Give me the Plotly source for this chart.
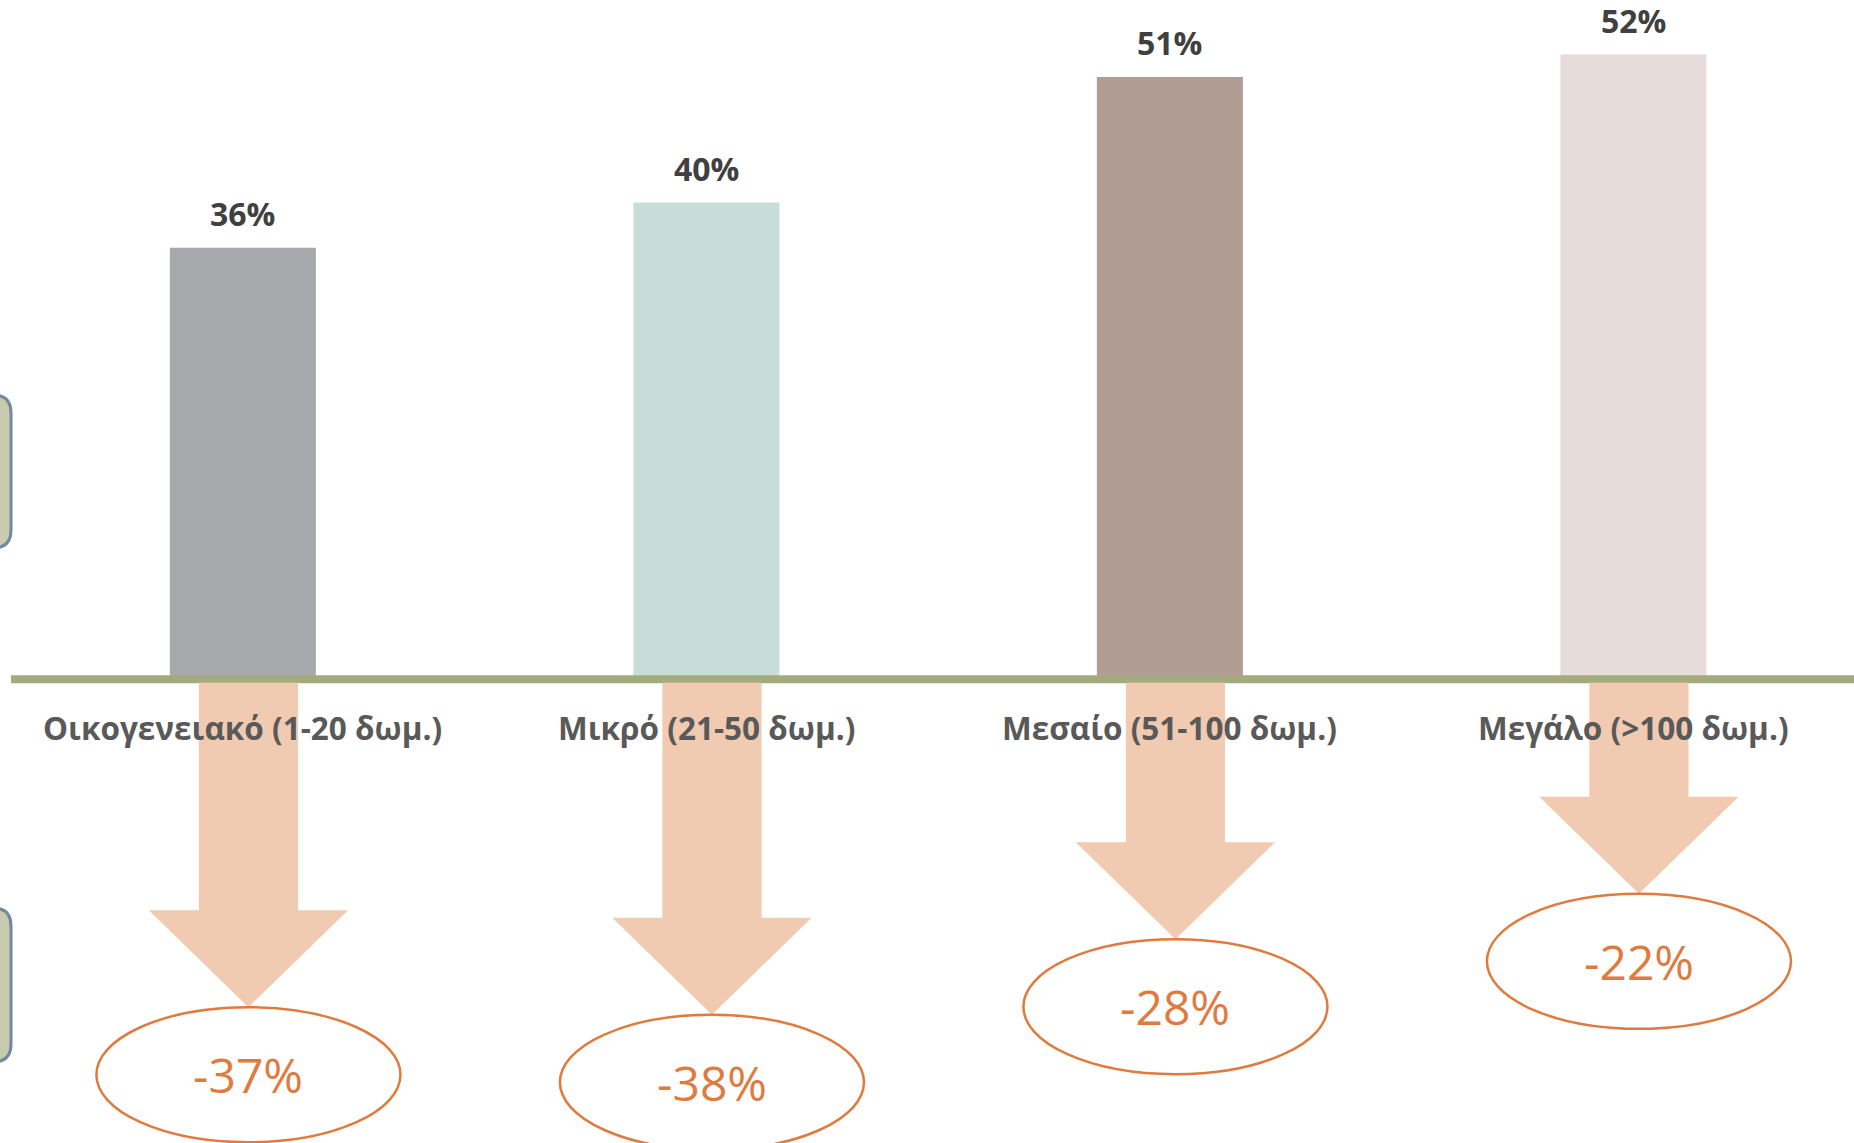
import plotly.graph_objects as go

# ---------------- data ----------------
categories = ["Οικογενειακό (1-20 δωμ.)", "Μικρό (21-50 δωμ.)",
              "Μεσαίο (51-100 δωμ.)", "Μεγάλο (>100 δωμ.)"]
shares = [36.3, 40.1, 50.7, 52.6]   # bar values (%)
share_labels = ["36%", "40%", "51%", "52%"]
changes = [-37, -38, -28, -22]      # change values (%)

# ---------------- style ----------------
W, H = 1854, 1143
bar_colors = ["#A7A9AC", "#C9DDD8", "#B09C93", "#E6DCDA"]
axis_color = "#A2AA7E"
arrow_color = "#F1CBB1"
orange = "#E07B3F"
label_dark = "#404040"
cat_color = "#595959"
FONT = "Open Sans"

X_RANGE = [-0.524, 3.476]
Y_RANGE = [-39.22, 57.19]
px_per_unit_y = H / (Y_RANGE[1] - Y_RANGE[0])

fig = go.Figure()
fig.add_trace(go.Bar(
    x=categories, y=shares, width=0.315,
    marker=dict(color=bar_colors, line=dict(width=0)),
    hoverinfo="x+y", showlegend=False,
))

shapes = []
annotations = []

# baseline
shapes.append(dict(type="line", xref="paper", yref="y", x0=11 / W, x1=1, y0=-0.1, y1=-0.1,
                   line=dict(color=axis_color, width=8), layer="above"))

# value labels above bars
for i, (v, lab) in enumerate(zip(shares, share_labels)):
    annotations.append(dict(x=i, y=v, xref="x", yref="y", text=lab, showarrow=False,
                            yshift=34, font=dict(family=FONT, size=32, color=label_dark, weight="bold")))

# arrows + ellipses
shaft_hw = 0.107
head_hw = 0.215
head_h = 97 / px_per_unit_y
ell_hw = 0.328
ell_h = 135 / px_per_unit_y
x_off = 0.012
for i, c in enumerate(changes):
    cx = i + x_off
    tip = -4.18 + 0.6375 * c
    top = -0.4
    hy = tip + head_h
    path = (f"M {cx - shaft_hw},{top} L {cx + shaft_hw},{top} L {cx + shaft_hw},{hy} "
            f"L {cx + head_hw},{hy} L {cx},{tip} L {cx - head_hw},{hy} L {cx - shaft_hw},{hy} Z")
    shapes.append(dict(type="path", xref="x", yref="y", path=path,
                       fillcolor=arrow_color, line=dict(width=0), layer="above"))
    shapes.append(dict(type="circle", xref="x", yref="y", x0=cx - ell_hw, x1=cx + ell_hw,
                       y0=tip - ell_h, y1=tip, fillcolor="white",
                       line=dict(color=orange, width=2.5), layer="above"))
    annotations.append(dict(x=cx, y=tip - ell_h / 2, xref="x", yref="y", text=f"{c}%",
                            showarrow=False, font=dict(family=FONT, size=48, color=orange)))

# category labels
for i, cat in enumerate(categories):
    annotations.append(dict(x=i, y=-49 / px_per_unit_y, xref="x", yref="y", text=cat, showarrow=False,
                            font=dict(family=FONT, size=31.5, color=cat_color, weight="bold")))


# left-edge decorative rounded boxes (pixel coords -> paper)
def rounded_rect(x0, y0, x1, y1, r):
    def P(x, y):
        return f"{x / W},{1 - y / H}"
    return (f"M {P(x0, y0)} L {P(x1 - r, y0)} Q {P(x1, y0)} {P(x1, y0 + r)} "
            f"L {P(x1, y1 - r)} Q {P(x1, y1)} {P(x1 - r, y1)} L {P(x0, y1)} Z")


for (ya, yb) in [(395, 548), (908, 1062)]:
    shapes.append(dict(type="path", xref="paper", yref="paper", path=rounded_rect(-40, ya, 11, yb, 18),
                       fillcolor="#C8CBB0", line=dict(color="#7389A0", width=3), layer="above"))

fig.update_layout(
    width=W, height=H,
    margin=dict(l=0, r=0, t=0, b=0),
    paper_bgcolor="white", plot_bgcolor="white",
    xaxis=dict(range=X_RANGE, visible=False, fixedrange=True),
    yaxis=dict(range=Y_RANGE, visible=False, fixedrange=True),
    shapes=shapes, annotations=annotations,
    showlegend=False,
    font=dict(family=FONT),
)

fig.write_html("out.html", config={"displayModeBar": False},
               post_script="document.body.style.margin='0';document.body.style.overflow='hidden';")
